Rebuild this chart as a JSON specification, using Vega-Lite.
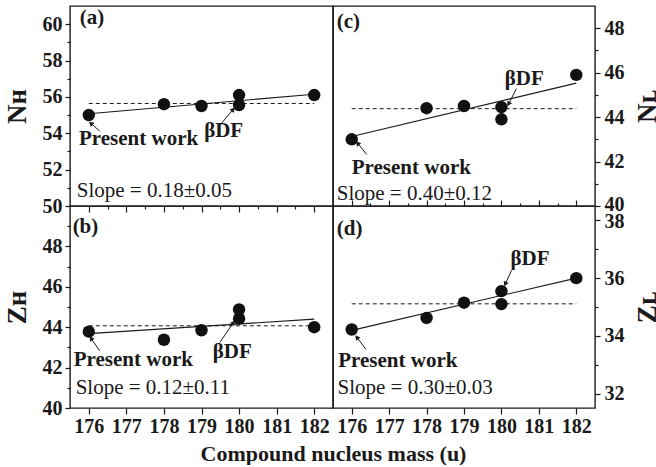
{
  "$schema": "https://vega.github.io/schema/vega-lite/v6.json",
  "background": "white",
  "padding": {"left": 2, "top": 5, "right": 0, "bottom": 0},
  "datasets": {
    "points": [
      {"panel": "a", "mass": 176, "value": 55.0},
      {"panel": "a", "mass": 178, "value": 55.6},
      {"panel": "a", "mass": 179, "value": 55.5},
      {"panel": "a", "mass": 180, "value": 56.1},
      {"panel": "a", "mass": 180, "value": 55.55},
      {"panel": "a", "mass": 182, "value": 56.1},
      {"panel": "b", "mass": 176, "value": 43.78},
      {"panel": "b", "mass": 178, "value": 43.38},
      {"panel": "b", "mass": 179, "value": 43.85},
      {"panel": "b", "mass": 180, "value": 44.88},
      {"panel": "b", "mass": 180, "value": 44.42},
      {"panel": "b", "mass": 182, "value": 44.0},
      {"panel": "c", "mass": 176, "value": 43.0},
      {"panel": "c", "mass": 178, "value": 44.4},
      {"panel": "c", "mass": 179, "value": 44.5},
      {"panel": "c", "mass": 180, "value": 44.45},
      {"panel": "c", "mass": 180, "value": 43.9},
      {"panel": "c", "mass": 182, "value": 45.9},
      {"panel": "d", "mass": 176, "value": 34.22},
      {"panel": "d", "mass": 178, "value": 34.62},
      {"panel": "d", "mass": 179, "value": 35.15},
      {"panel": "d", "mass": 180, "value": 35.55},
      {"panel": "d", "mass": 180, "value": 35.1},
      {"panel": "d", "mass": 182, "value": 36.0}
    ],
    "lines": [
      {"panel": "a", "series": "fit", "mass": 176, "value": 55.07},
      {"panel": "a", "series": "fit", "mass": 182, "value": 56.15},
      {"panel": "a", "series": "mean", "mass": 176, "value": 55.64},
      {"panel": "a", "series": "mean", "mass": 182, "value": 55.64},
      {"panel": "b", "series": "fit", "mass": 176, "value": 43.68},
      {"panel": "b", "series": "fit", "mass": 182, "value": 44.4},
      {"panel": "b", "series": "mean", "mass": 176, "value": 44.07},
      {"panel": "b", "series": "mean", "mass": 182, "value": 44.07},
      {"panel": "c", "series": "fit", "mass": 176, "value": 43.13},
      {"panel": "c", "series": "fit", "mass": 182, "value": 45.53},
      {"panel": "c", "series": "mean", "mass": 176, "value": 44.38},
      {"panel": "c", "series": "mean", "mass": 182, "value": 44.38},
      {"panel": "d", "series": "fit", "mass": 176, "value": 34.19},
      {"panel": "d", "series": "fit", "mass": 182, "value": 36.0},
      {"panel": "d", "series": "mean", "mass": 176, "value": 35.11},
      {"panel": "d", "series": "mean", "mass": 182, "value": 35.11}
    ],
    "arrows": [
      {"panel": "a", "mass": 176.07, "value": 54.52, "mass2": 176.29, "value2": 54.12},
      {"panel": "a", "mass": 179.83, "value": 55.28, "mass2": 179.49, "value2": 54.45},
      {"panel": "b", "mass": 176.07, "value": 43.42, "mass2": 176.29, "value2": 42.83},
      {"panel": "b", "mass": 179.84, "value": 44.2, "mass2": 179.49, "value2": 43.25},
      {"panel": "c", "mass": 176.17, "value": 42.8, "mass2": 176.4, "value2": 42.32},
      {"panel": "c", "mass": 180.2, "value": 44.62, "mass2": 180.4, "value2": 45.28},
      {"panel": "d", "mass": 176.15, "value": 33.93, "mass2": 176.38, "value2": 33.53},
      {"panel": "d", "mass": 180.11, "value": 35.82, "mass2": 180.27, "value2": 36.27}
    ],
    "notes": [
      {"panel": "a", "kind": "tag", "mass": 175.76, "value": 60.33, "text": "(a)"},
      {"panel": "a", "kind": "label", "mass": 175.74, "value": 53.7, "text": "Present work"},
      {"panel": "a", "kind": "label", "mass": 179.07, "value": 54.12, "text": "βDF"},
      {"panel": "a", "kind": "slope", "mass": 175.68, "value": 50.82, "text": "Slope = 0.18±0.05"},
      {"panel": "b", "kind": "tag", "mass": 175.57, "value": 48.94, "text": "(b)"},
      {"panel": "b", "kind": "label", "mass": 175.6, "value": 42.38, "text": "Present work"},
      {"panel": "b", "kind": "label", "mass": 179.3, "value": 42.76, "text": "βDF"},
      {"panel": "b", "kind": "slope", "mass": 175.65, "value": 40.98, "text": "Slope = 0.12±0.11"},
      {"panel": "c", "kind": "tag", "mass": 175.6, "value": 48.27, "text": "(c)"},
      {"panel": "c", "kind": "label", "mass": 176.0, "value": 41.73, "text": "Present work"},
      {"panel": "c", "kind": "label", "mass": 180.09, "value": 45.7, "text": "βDF"},
      {"panel": "c", "kind": "slope", "mass": 175.6, "value": 40.56, "text": "Slope = 0.40±0.12"},
      {"panel": "d", "kind": "tag", "mass": 175.6, "value": 37.72, "text": "(d)"},
      {"panel": "d", "kind": "label", "mass": 175.64, "value": 33.12, "text": "Present work"},
      {"panel": "d", "kind": "label", "mass": 180.24, "value": 36.65, "text": "βDF"},
      {"panel": "d", "kind": "slope", "mass": 175.62, "value": 32.18, "text": "Slope = 0.30±0.03"}
    ]
  },
  "columns": 2,
  "spacing": 0,
  "bounds": "flush",
  "concat": [
    {
      "width": 263,
      "height": 200,
      "encoding": {
        "x": {"field": "mass", "type": "quantitative",
          "scale": {"domain": [175.5, 182.5], "nice": false, "zero": false},
          "axis": {"title": null, "labels": false,
            "values": [176, 176.5, 177, 177.5, 178, 178.5, 179, 179.5, 180, 180.5, 181, 181.5, 182],
            "tickSize": {"condition": {"test": "datum.value % 1 !== 0", "value": 3}, "value": 6}}},
        "y": {"field": "value", "type": "quantitative",
          "scale": {"domain": [50, 61], "nice": false, "zero": false},
          "axis": {"orient": "left", "title": "Nʜ", "titleFontSize": 27, "titlePadding": 11,
            "values": [50, 51, 52, 53, 54, 55, 56, 57, 58, 59, 60],
            "labelExpr": "datum.value % 2 === 0 ? datum.label : ''", "labelPadding": 3,
            "tickSize": {"condition": {"test": "datum.value % 2 !== 0", "value": 3}, "value": 5}}}
      },
      "layer": [
        {"data": {"name": "lines"}, "transform": [{"filter": "datum.panel === 'a' && datum.series === 'mean'"}],
          "mark": {"type": "line", "color": "#1a1a1a", "strokeWidth": 1, "strokeDash": [4, 3]}, "encoding": {}},
        {"data": {"name": "lines"}, "transform": [{"filter": "datum.panel === 'a' && datum.series === 'fit'"}],
          "mark": {"type": "line", "color": "#1a1a1a", "strokeWidth": 1.1}, "encoding": {}},
        {"data": {"name": "points"}, "transform": [{"filter": "datum.panel === 'a'"}],
          "mark": {"type": "circle", "size": 155, "color": "#111111", "opacity": 1}},
        {"data": {"name": "arrows"}, "transform": [{"filter": "datum.panel === 'a'"}],
          "mark": {"type": "rule", "color": "#1a1a1a", "strokeWidth": 1},
          "encoding": {"x2": {"field": "mass2"}, "y2": {"field": "value2"}}},
        {"data": {"name": "arrows"}, "transform": [{"filter": "datum.panel === 'a'"},
            {"calculate": "atan2((datum.mass - datum.mass2) * 37.57, (datum.value - datum.value2) * 18.18) * 180 / PI", "as": "heading"}],
          "mark": {"type": "point", "shape": "triangle", "filled": true, "size": 30, "color": "#1a1a1a", "opacity": 1},
          "encoding": {"angle": {"field": "heading", "type": "quantitative", "scale": null}}},
        {"data": {"name": "notes"}, "transform": [{"filter": "datum.panel === 'a' && datum.kind !== 'slope'"}],
          "mark": {"type": "text", "align": "left", "baseline": "middle", "font": "Liberation Serif", "fontWeight": "bold", "fontSize": 21, "color": "#1a1a1a"},
          "encoding": {"text": {"field": "text"}}},
        {"data": {"name": "notes"}, "transform": [{"filter": "datum.panel === 'a' && datum.kind === 'slope'"}],
          "mark": {"type": "text", "align": "left", "baseline": "middle", "font": "Liberation Serif", "fontSize": 21, "color": "#1a1a1a"},
          "encoding": {"text": {"field": "text"}}}
      ]
    },
    {
      "width": 262,
      "height": 200,
      "encoding": {
        "x": {"field": "mass", "type": "quantitative",
          "scale": {"domain": [175.5, 182.5], "nice": false, "zero": false},
          "axis": {"title": null, "labels": false,
            "values": [176, 176.5, 177, 177.5, 178, 178.5, 179, 179.5, 180, 180.5, 181, 181.5, 182],
            "tickSize": {"condition": {"test": "datum.value % 1 !== 0", "value": -3}, "value": -6}}},
        "y": {"field": "value", "type": "quantitative",
          "scale": {"domain": [40, 49], "nice": false, "zero": false},
          "axis": {"orient": "right", "title": "Nʟ", "titleFontSize": 27, "titlePadding": 10, "titleAngle": 270, "titleBaseline": "top",
            "values": [40, 41, 42, 43, 44, 45, 46, 47, 48],
            "labelExpr": "datum.value % 2 === 0 ? datum.label : ''", "labelPadding": 4, "labelBaseline": "middle",
            "labelOffset": {"condition": {"test": "datum.value === 40", "value": -2}, "value": 0},
            "tickSize": {"condition": {"test": "datum.value % 2 !== 0", "value": 3}, "value": 5}}}
      },
      "layer": [
        {"data": {"name": "lines"}, "transform": [{"filter": "datum.panel === 'c' && datum.series === 'mean'"}],
          "mark": {"type": "line", "color": "#1a1a1a", "strokeWidth": 1, "strokeDash": [4, 3]}, "encoding": {}},
        {"data": {"name": "lines"}, "transform": [{"filter": "datum.panel === 'c' && datum.series === 'fit'"}],
          "mark": {"type": "line", "color": "#1a1a1a", "strokeWidth": 1.1}, "encoding": {}},
        {"data": {"name": "points"}, "transform": [{"filter": "datum.panel === 'c'"}],
          "mark": {"type": "circle", "size": 155, "color": "#111111", "opacity": 1}},
        {"data": {"name": "arrows"}, "transform": [{"filter": "datum.panel === 'c'"}],
          "mark": {"type": "rule", "color": "#1a1a1a", "strokeWidth": 1},
          "encoding": {"x2": {"field": "mass2"}, "y2": {"field": "value2"}}},
        {"data": {"name": "arrows"}, "transform": [{"filter": "datum.panel === 'c'"},
            {"calculate": "atan2((datum.mass - datum.mass2) * 37.43, (datum.value - datum.value2) * 22.22) * 180 / PI", "as": "heading"}],
          "mark": {"type": "point", "shape": "triangle", "filled": true, "size": 30, "color": "#1a1a1a", "opacity": 1},
          "encoding": {"angle": {"field": "heading", "type": "quantitative", "scale": null}}},
        {"data": {"name": "notes"}, "transform": [{"filter": "datum.panel === 'c' && datum.kind !== 'slope'"}],
          "mark": {"type": "text", "align": "left", "baseline": "middle", "font": "Liberation Serif", "fontWeight": "bold", "fontSize": 21, "color": "#1a1a1a"},
          "encoding": {"text": {"field": "text"}}},
        {"data": {"name": "notes"}, "transform": [{"filter": "datum.panel === 'c' && datum.kind === 'slope'"}],
          "mark": {"type": "text", "align": "left", "baseline": "middle", "font": "Liberation Serif", "fontSize": 21, "color": "#1a1a1a"},
          "encoding": {"text": {"field": "text"}}}
      ]
    },
    {
      "width": 263,
      "height": 202,
      "encoding": {
        "x": {"field": "mass", "type": "quantitative",
          "scale": {"domain": [175.5, 182.5], "nice": false, "zero": false},
          "axis": {"title": "Compound nucleus mass (u)", "titleFontSize": 22, "titleX": 263, "titlePadding": 7,
            "values": [176, 176.5, 177, 177.5, 178, 178.5, 179, 179.5, 180, 180.5, 181, 181.5, 182],
            "format": "d", "labelExpr": "datum.value % 1 === 0 ? datum.label : ''", "labelPadding": 2,
            "tickSize": {"condition": {"test": "datum.value % 1 !== 0", "value": 3}, "value": 6}}},
        "y": {"field": "value", "type": "quantitative",
          "scale": {"domain": [40, 50], "nice": false, "zero": false},
          "axis": {"orient": "left", "title": "Zʜ", "titleFontSize": 27, "titlePadding": 11,
            "values": [40, 41, 42, 43, 44, 45, 46, 47, 48, 49],
            "labelExpr": "datum.value % 2 === 0 ? datum.label : ''", "labelPadding": 3,
            "tickSize": {"condition": {"test": "datum.value % 2 !== 0", "value": 3}, "value": 5}}}
      },
      "layer": [
        {"data": {"name": "lines"}, "transform": [{"filter": "datum.panel === 'b' && datum.series === 'mean'"}],
          "mark": {"type": "line", "color": "#1a1a1a", "strokeWidth": 1, "strokeDash": [4, 3]}, "encoding": {}},
        {"data": {"name": "lines"}, "transform": [{"filter": "datum.panel === 'b' && datum.series === 'fit'"}],
          "mark": {"type": "line", "color": "#1a1a1a", "strokeWidth": 1.1}, "encoding": {}},
        {"data": {"name": "points"}, "transform": [{"filter": "datum.panel === 'b'"}],
          "mark": {"type": "circle", "size": 155, "color": "#111111", "opacity": 1}},
        {"data": {"name": "arrows"}, "transform": [{"filter": "datum.panel === 'b'"}],
          "mark": {"type": "rule", "color": "#1a1a1a", "strokeWidth": 1},
          "encoding": {"x2": {"field": "mass2"}, "y2": {"field": "value2"}}},
        {"data": {"name": "arrows"}, "transform": [{"filter": "datum.panel === 'b'"},
            {"calculate": "atan2((datum.mass - datum.mass2) * 37.57, (datum.value - datum.value2) * 20.2) * 180 / PI", "as": "heading"}],
          "mark": {"type": "point", "shape": "triangle", "filled": true, "size": 30, "color": "#1a1a1a", "opacity": 1},
          "encoding": {"angle": {"field": "heading", "type": "quantitative", "scale": null}}},
        {"data": {"name": "notes"}, "transform": [{"filter": "datum.panel === 'b' && datum.kind !== 'slope'"}],
          "mark": {"type": "text", "align": "left", "baseline": "middle", "font": "Liberation Serif", "fontWeight": "bold", "fontSize": 21, "color": "#1a1a1a"},
          "encoding": {"text": {"field": "text"}}},
        {"data": {"name": "notes"}, "transform": [{"filter": "datum.panel === 'b' && datum.kind === 'slope'"}],
          "mark": {"type": "text", "align": "left", "baseline": "middle", "font": "Liberation Serif", "fontSize": 21, "color": "#1a1a1a"},
          "encoding": {"text": {"field": "text"}}}
      ]
    },
    {
      "width": 262,
      "height": 202,
      "encoding": {
        "x": {"field": "mass", "type": "quantitative",
          "scale": {"domain": [175.5, 182.5], "nice": false, "zero": false},
          "axis": {"title": null,
            "values": [176, 176.5, 177, 177.5, 178, 178.5, 179, 179.5, 180, 180.5, 181, 181.5, 182],
            "format": "d", "labelExpr": "datum.value % 1 === 0 ? datum.label : ''", "labelPadding": 2,
            "tickSize": {"condition": {"test": "datum.value % 1 !== 0", "value": 3}, "value": 6}}},
        "y": {"field": "value", "type": "quantitative",
          "scale": {"domain": [31.5, 38.5], "nice": false, "zero": false},
          "axis": {"orient": "right", "title": "Zʟ", "titleFontSize": 27, "titlePadding": 10, "titleAngle": 270, "titleBaseline": "top",
            "values": [32, 33, 34, 35, 36, 37, 38],
            "labelExpr": "datum.value % 2 === 0 ? datum.label : ''", "labelPadding": 4,
            "labelOffset": {"condition": {"test": "datum.value === 38", "value": 1}, "value": 0},
            "tickSize": {"condition": {"test": "datum.value % 2 !== 0", "value": 3}, "value": 5}}}
      },
      "layer": [
        {"data": {"name": "lines"}, "transform": [{"filter": "datum.panel === 'd' && datum.series === 'mean'"}],
          "mark": {"type": "line", "color": "#1a1a1a", "strokeWidth": 1, "strokeDash": [4, 3]}, "encoding": {}},
        {"data": {"name": "lines"}, "transform": [{"filter": "datum.panel === 'd' && datum.series === 'fit'"}],
          "mark": {"type": "line", "color": "#1a1a1a", "strokeWidth": 1.1}, "encoding": {}},
        {"data": {"name": "points"}, "transform": [{"filter": "datum.panel === 'd'"}],
          "mark": {"type": "circle", "size": 155, "color": "#111111", "opacity": 1}},
        {"data": {"name": "arrows"}, "transform": [{"filter": "datum.panel === 'd'"}],
          "mark": {"type": "rule", "color": "#1a1a1a", "strokeWidth": 1},
          "encoding": {"x2": {"field": "mass2"}, "y2": {"field": "value2"}}},
        {"data": {"name": "arrows"}, "transform": [{"filter": "datum.panel === 'd'"},
            {"calculate": "atan2((datum.mass - datum.mass2) * 37.43, (datum.value - datum.value2) * 28.86) * 180 / PI", "as": "heading"}],
          "mark": {"type": "point", "shape": "triangle", "filled": true, "size": 30, "color": "#1a1a1a", "opacity": 1},
          "encoding": {"angle": {"field": "heading", "type": "quantitative", "scale": null}}},
        {"data": {"name": "notes"}, "transform": [{"filter": "datum.panel === 'd' && datum.kind !== 'slope'"}],
          "mark": {"type": "text", "align": "left", "baseline": "middle", "font": "Liberation Serif", "fontWeight": "bold", "fontSize": 21, "color": "#1a1a1a"},
          "encoding": {"text": {"field": "text"}}},
        {"data": {"name": "notes"}, "transform": [{"filter": "datum.panel === 'd' && datum.kind === 'slope'"}],
          "mark": {"type": "text", "align": "left", "baseline": "middle", "font": "Liberation Serif", "fontSize": 21, "color": "#1a1a1a"},
          "encoding": {"text": {"field": "text"}}}
      ]
    }
  ],
  "config": {
    "font": "Liberation Serif",
    "view": {"stroke": "#1a1a1a", "strokeWidth": 1.4},
    "concat": {"spacing": 0},
    "axis": {
      "domain": false, "grid": false,
      "labelFont": "Liberation Serif", "labelFontWeight": "bold", "labelFontSize": 20, "labelColor": "#1a1a1a",
      "tickColor": "#1a1a1a", "tickWidth": 1.2,
      "titleFont": "Liberation Serif", "titleFontWeight": "bold", "titleColor": "#1a1a1a"
    }
  }
}
